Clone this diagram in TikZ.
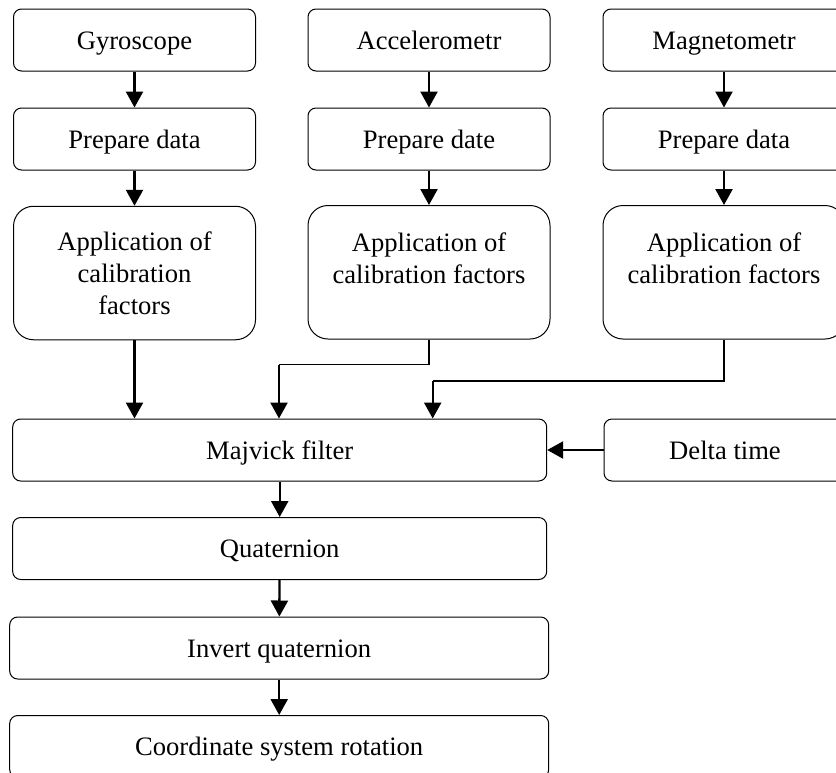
\documentclass[tikz,border=0pt]{standalone}
\usepackage{fontspec}
\setmainfont{Liberation Serif}
\usetikzlibrary{arrows.meta,positioning}

\tikzset{
  box/.style={draw,line width=0.5pt,minimum width=121pt,inner sep=0pt,font=\fontsize{13.3}{16}\selectfont},
  block/.style={box,rounded corners=4pt,minimum height=31pt,text height=9.5pt,text depth=0.5pt},
  calib/.style={box,rounded corners=10pt,minimum height=66.75pt,align=center},
  wide/.style={block,minimum width=267pt},
  flow/.style={line width=1.2pt,-{Triangle[length=8pt,width=8.5pt]}},
  link/.style={line width=0.6pt}
}

\begin{document}
\begin{tikzpicture}[x=0.5pt,y=-0.5pt]
    \clip (0,0) rectangle (836,772);
    % sensors
    \node[block] (gyro) at (134.5,40) {Gyroscope};
    \node[block] (acc) at (429,40) {Accelerometr};
    \node[block] (mag) at (724,40) {Magnetometr};

    \node[block] (prep1) at (134.5,139) {Prepare data};
    \node[block] (prep2) at (429,139) {Prepare date};
    \node[block] (prep3) at (724,139) {Prepare data};

    \node[calib] (calib1) at (134.5,273) {Application of\\calibration\\factors};
    \node[calib] (calib2) at (429,272.25) {Application of\\calibration factors\\[-2pt]\mbox{}};
    \node[calib] (calib3) at (724,272.25) {Application of\\calibration factors\\[-2pt]\mbox{}};

    % filter chain
    \node[wide] (maj) at (279.7,450) {Majvick filter};
    \node[block] (delta) at (725,450) {Delta time};
    \node[wide] (quat) at (279.7,548.5) {Quaternion};
    \node[wide,minimum width=269.5pt] (inv) at (279.2,648) {Invert quaternion};
    \node[wide,minimum width=269.5pt] (rot) at (279.2,746.5) {Coordinate system rotation};

    \foreach \a/\b in {gyro/prep1,acc/prep2,mag/prep3,prep1/calib1,prep2/calib2,prep3/calib3}
        \draw[flow] (\a) -- (\b);

    \draw[flow] (calib1.south) -- (calib1.south |- maj.north);

    \coordinate (accbend) at (279,364.5);
    \draw[link] (calib2.south) |- (accbend);
    \draw[flow] (accbend) -- (accbend |- maj.north);

    \coordinate (magbend) at (432.7,381);
    \draw[link] (calib3.south) |- (magbend);
    \draw[flow] (magbend) -- (magbend |- maj.north);

    \draw[flow] (delta) -- (maj);
    \draw[flow] (maj) -- (quat);
    \draw[flow] (quat) -- (inv);
    \draw[flow] (inv) -- (rot);
\end{tikzpicture}
\end{document}
